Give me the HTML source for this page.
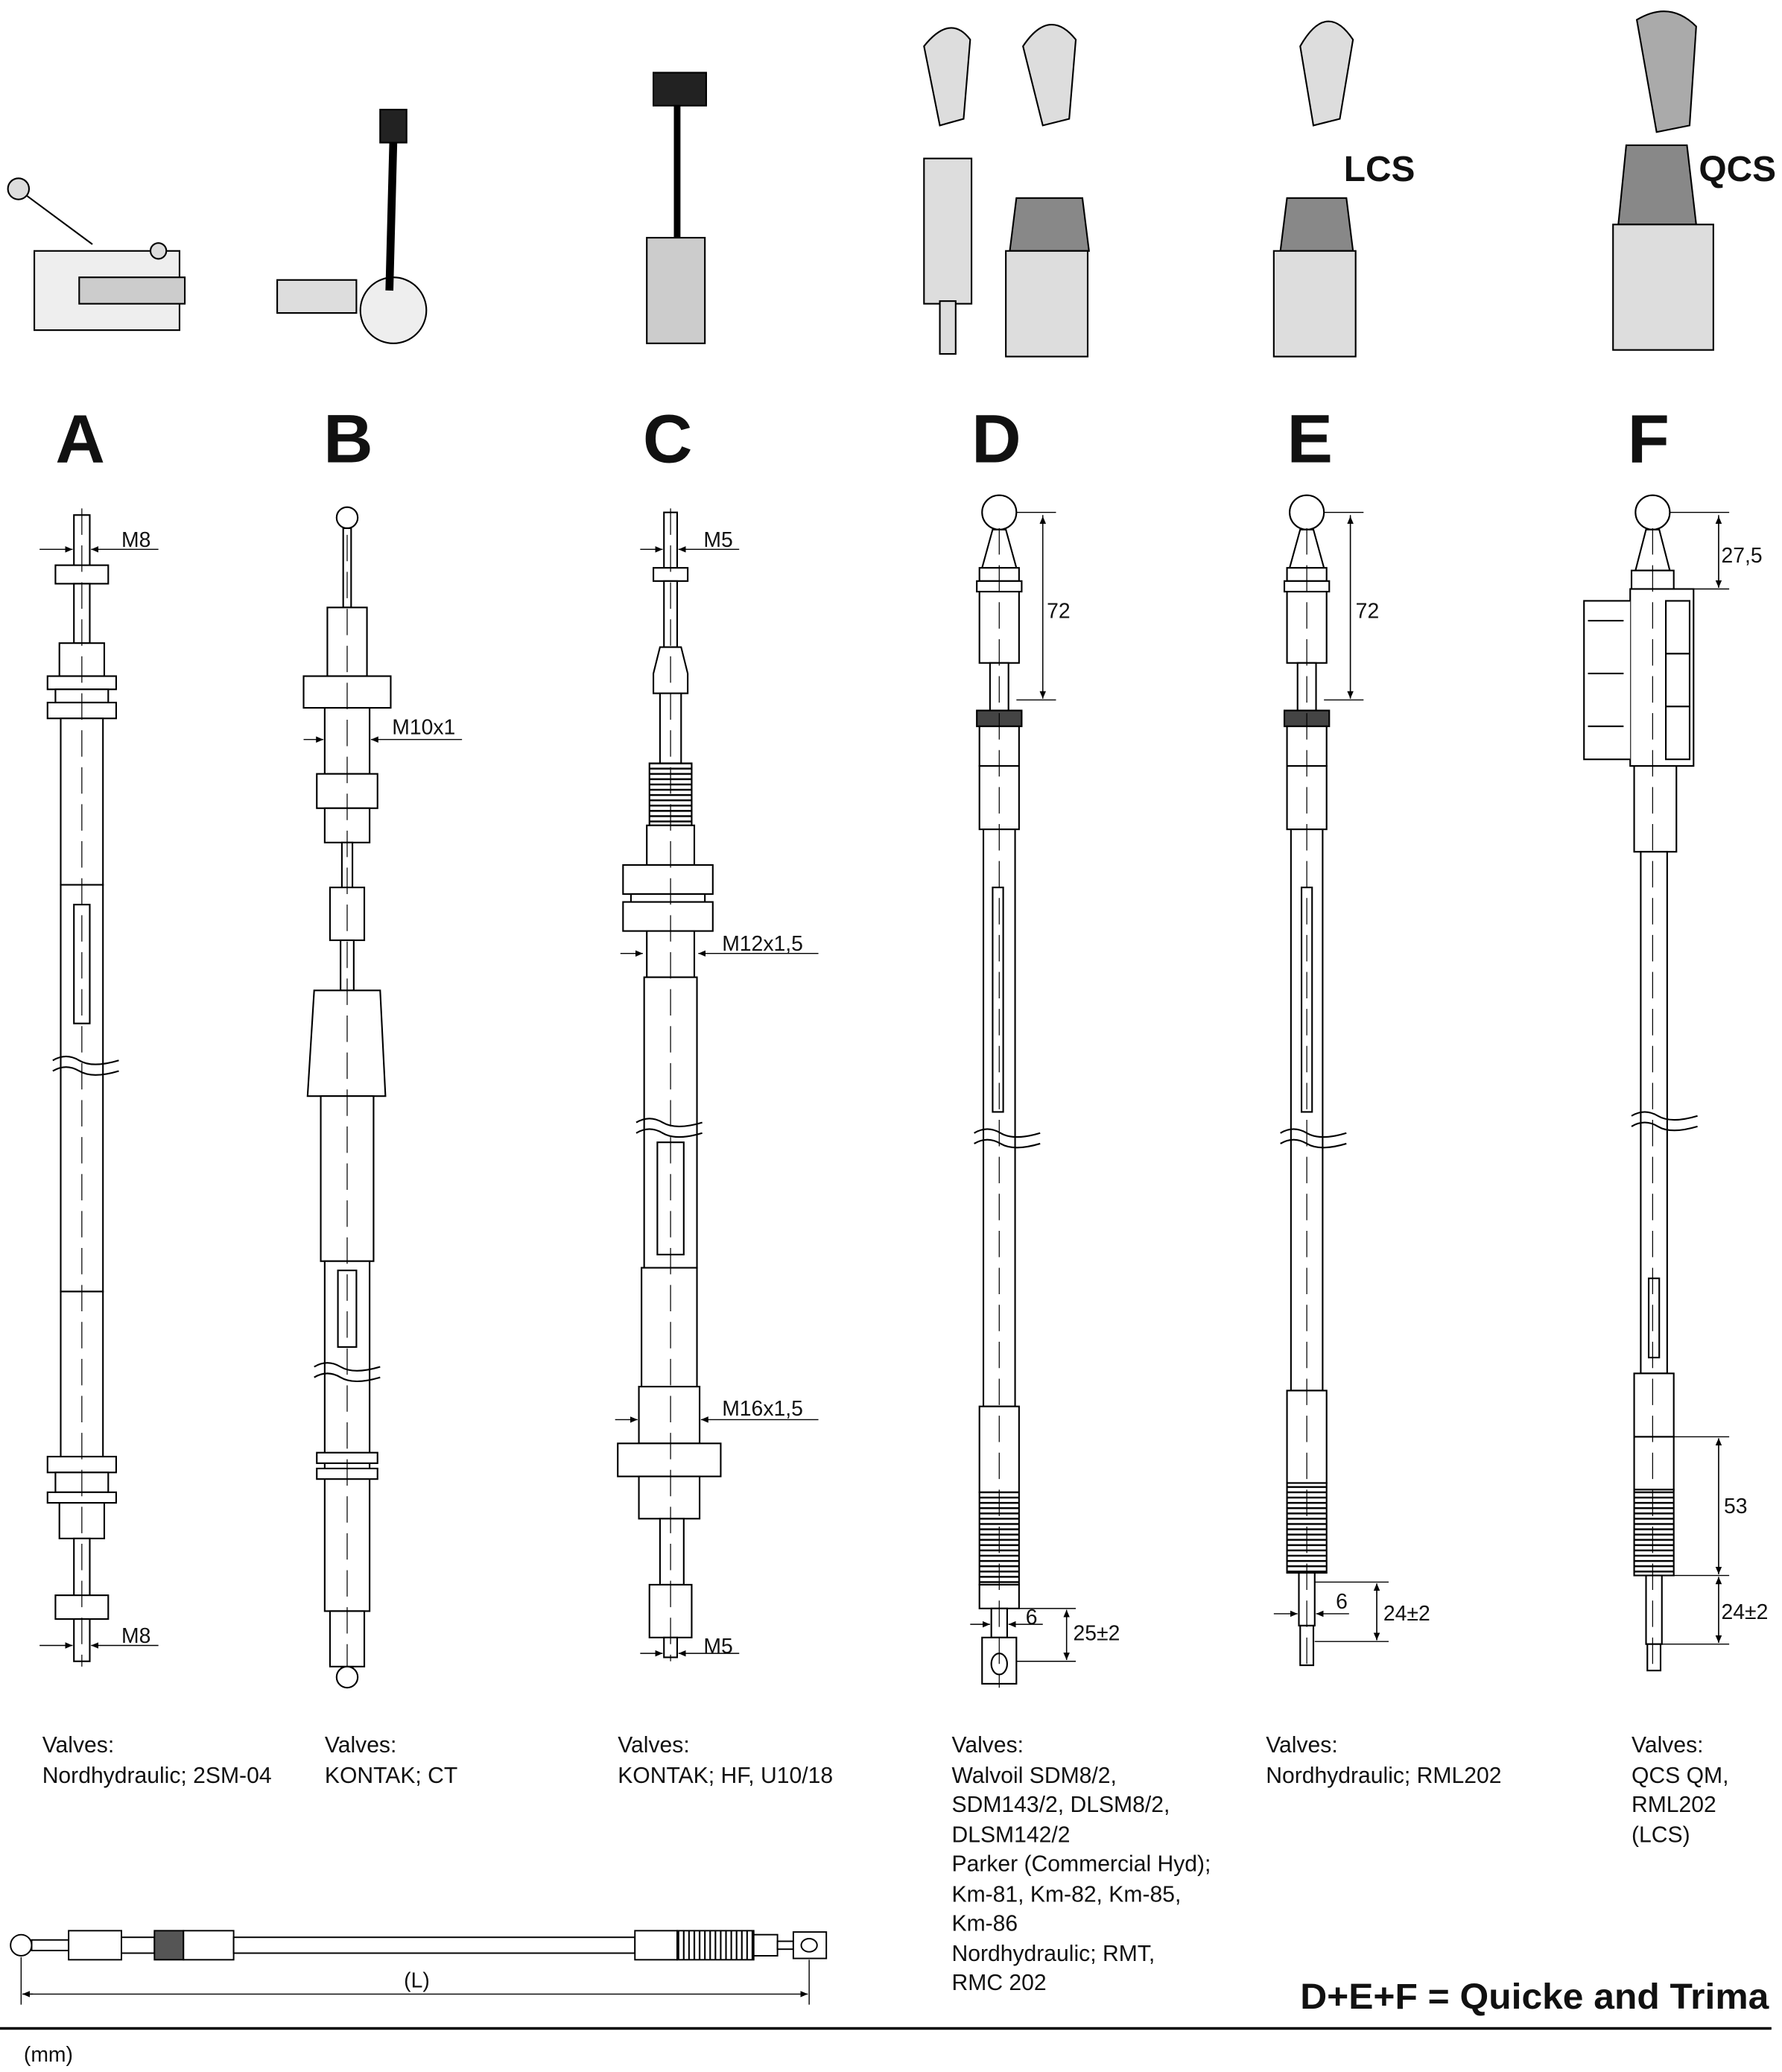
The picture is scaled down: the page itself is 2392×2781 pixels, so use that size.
<!DOCTYPE html>
<html><head><meta charset="utf-8"><style>
html,body{margin:0;padding:0;background:#fff}
svg{display:block}
text{font-family:"Liberation Sans",Arial,sans-serif;fill:#111}
.big{font-size:52px;font-weight:bold}
.lb{font-size:17px}
.d{font-size:16px}
</style></head><body>
<svg width="2392" height="2781" viewBox="0 0 1350 1569" preserveAspectRatio="none" xmlns="http://www.w3.org/2000/svg">
<defs>
<pattern id="rib" width="10" height="4" patternUnits="userSpaceOnUse"><rect width="10" height="4" fill="#fff"/><line x1="0" y1="2" x2="10" y2="2" stroke="#000" stroke-width="1.4"/></pattern>
<pattern id="ribv" width="4" height="10" patternUnits="userSpaceOnUse"><rect width="4" height="10" fill="#fff"/><line x1="2" y1="0" x2="2" y2="10" stroke="#000" stroke-width="1.2"/></pattern>
<marker id="ar" markerWidth="8" markerHeight="8" refX="7" refY="3" orient="auto"><path d="M0,0 L7,3 L0,6z" fill="#000"/></marker>
</defs>
<g stroke="#000" stroke-width="1.2" fill="#fff">
<g fill="#ddd">
<rect x="26" y="190" width="110" height="60" fill="#eee"/><circle cx="14" cy="143" r="8"/><line x1="20" y1="148" x2="70" y2="185"/><circle cx="120" cy="190" r="6"/><rect x="60" y="210" width="80" height="20" fill="#ccc"/>
<circle cx="298" cy="235" r="25" fill="#eee"/><rect x="210" y="212" width="60" height="25" fill="#ddd"/><line x1="298" y1="105" x2="295" y2="220" stroke-width="6"/><rect x="288" y="83" width="20" height="25" fill="#222"/>
<rect x="495" y="55" width="40" height="25" fill="#222"/><rect x="490" y="180" width="44" height="80" fill="#ccc"/><line x1="513" y1="80" x2="513" y2="180" stroke-width="5"/>
<path d="M700,35 Q720,10 735,30 L730,90 L712,95z"/><rect x="700" y="120" width="36" height="110"/><rect x="712" y="228" width="12" height="40"/>
<path d="M775,35 Q795,5 815,30 L810,90 L790,95z"/><path d="M770,150 L820,150 L825,190 L765,190z" fill="#888"/><rect x="762" y="190" width="62" height="80"/>
<path d="M985,35 Q1005,0 1025,30 L1015,90 L995,95z"/><path d="M975,150 L1020,150 L1025,190 L970,190z" fill="#888"/><rect x="965" y="190" width="62" height="80"/>
<path d="M1240,15 Q1265,0 1285,20 L1280,95 L1255,100z" fill="#aaa"/><path d="M1232,110 L1278,110 L1285,170 L1226,170z" fill="#888"/><rect x="1222" y="170" width="76" height="95"/>
</g>
</g>
<text x="1018" y="137" style="font-size:27px;font-weight:bold">LCS</text>
<text x="1287" y="137" style="font-size:27px;font-weight:bold">QCS</text>
<text class="big" x="42" y="350">A</text><text class="big" x="245" y="350">B</text><text class="big" x="487" y="350">C</text>
<text class="big" x="736" y="350">D</text><text class="big" x="975" y="350">E</text><text class="big" x="1233" y="350">F</text>

<g stroke="#000" stroke-width="1.2" fill="#fff">
<rect x="56" y="390" width="12" height="40"/><rect x="42" y="428" width="40" height="14"/><rect x="56" y="442" width="12" height="45"/>
<rect x="45" y="487" width="34" height="25"/><rect x="36" y="512" width="52" height="10"/><rect x="42" y="522" width="40" height="10"/><rect x="36" y="532" width="52" height="12"/>
<rect x="46" y="544" width="32" height="126"/><rect x="46" y="670" width="32" height="308"/><rect x="56" y="685" width="12" height="90"/>
<rect x="46" y="978" width="32" height="125"/><rect x="36" y="1103" width="52" height="12"/><rect x="42" y="1115" width="40" height="15"/><rect x="36" y="1130" width="52" height="8"/>
<rect x="45" y="1138" width="34" height="27"/><rect x="56" y="1165" width="12" height="45"/><rect x="42" y="1208" width="40" height="18"/><rect x="56" y="1226" width="12" height="32"/>
<circle cx="263" cy="392" r="8"/><rect x="260" y="400" width="6" height="60"/><rect x="248" y="460" width="30" height="52"/><rect x="230" y="512" width="66" height="24"/>
<rect x="246" y="536" width="34" height="50"/><rect x="240" y="586" width="46" height="26"/><rect x="246" y="612" width="34" height="26"/><rect x="259" y="638" width="8" height="34"/>
<rect x="250" y="672" width="26" height="40"/><rect x="258" y="712" width="10" height="38"/><path d="M238,750 L288,750 L292,830 L233,830z"/>
<rect x="243" y="830" width="40" height="125"/><rect x="246" y="955" width="34" height="265"/><rect x="256" y="962" width="14" height="58"/>
<rect x="240" y="1100" width="46" height="8"/><rect x="240" y="1112" width="46" height="8"/><rect x="250" y="1220" width="26" height="42"/><circle cx="263" cy="1270" r="8"/>
<rect x="503" y="388" width="10" height="42"/><rect x="495" y="430" width="26" height="10"/><rect x="503" y="440" width="10" height="50"/><path d="M500,490 L516,490 L521,510 L521,525 L495,525 L495,510z"/>
<rect x="500" y="525" width="16" height="53"/><rect x="492" y="578" width="32" height="47" fill="url(#rib)"/><rect x="490" y="625" width="36" height="30"/>
<rect x="472" y="655" width="68" height="22"/><rect x="478" y="677" width="56" height="6"/><rect x="472" y="683" width="68" height="22"/><rect x="490" y="705" width="36" height="35"/>
<rect x="488" y="740" width="40" height="220"/><rect x="498" y="865" width="20" height="85"/><rect x="486" y="960" width="42" height="90"/><rect x="484" y="1050" width="46" height="43"/>
<rect x="468" y="1093" width="78" height="25"/><rect x="484" y="1118" width="46" height="32"/><rect x="500" y="1150" width="18" height="50"/><rect x="492" y="1200" width="32" height="40"/><rect x="503" y="1240" width="10" height="15"/>
<circle cx="757" cy="388" r="13"/><path d="M752,401 L762,401 L770,430 L744,430z"/><rect x="742" y="430" width="30" height="10"/><rect x="740" y="440" width="34" height="8"/>
<rect x="742" y="448" width="30" height="54"/><rect x="750" y="502" width="14" height="36"/><rect x="740" y="538" width="34" height="12" fill="#444"/><rect x="742" y="550" width="30" height="30"/>
<rect x="742" y="580" width="30" height="48"/><rect x="745" y="628" width="24" height="437"/><rect x="752" y="672" width="8" height="170"/>
<rect x="742" y="1065" width="30" height="65"/><rect x="742" y="1130" width="30" height="70" fill="url(#rib)"/><rect x="742" y="1200" width="30" height="18"/>
<rect x="751" y="1218" width="12" height="22"/><rect x="744" y="1240" width="26" height="35"/><ellipse cx="757" cy="1260" rx="6" ry="8"/>
<circle cx="990" cy="388" r="13"/><path d="M985,401 L995,401 L1003,430 L977,430z"/><rect x="975" y="430" width="30" height="10"/><rect x="973" y="440" width="34" height="8"/>
<rect x="975" y="448" width="30" height="54"/><rect x="983" y="502" width="14" height="36"/><rect x="973" y="538" width="34" height="12" fill="#444"/><rect x="975" y="550" width="30" height="30"/>
<rect x="975" y="580" width="30" height="48"/><rect x="978" y="628" width="24" height="425"/><rect x="986" y="672" width="8" height="170"/>
<rect x="975" y="1053" width="30" height="70"/><rect x="975" y="1123" width="30" height="68" fill="url(#rib)"/><rect x="984" y="1191" width="12" height="40"/><rect x="985" y="1231" width="10" height="30"/>
<circle cx="1252" cy="388" r="13"/><path d="M1247,401 L1257,401 L1265,432 L1239,432z"/><rect x="1236" y="432" width="32" height="14"/>
<rect x="1235" y="446" width="48" height="134"/><path d="M1235,455 L1200,455 L1200,575 L1235,575" /><path d="M1203,470 L1230,470 M1203,510 L1230,510 M1203,550 L1230,550"/>
<rect x="1262" y="455" width="18" height="40"/><rect x="1262" y="495" width="18" height="40"/><rect x="1262" y="535" width="18" height="40"/>
<rect x="1238" y="580" width="32" height="65"/><rect x="1243" y="645" width="20" height="395"/><rect x="1249" y="968" width="8" height="60"/>
<rect x="1238" y="1040" width="30" height="48"/><rect x="1238" y="1088" width="30" height="40"/><rect x="1238" y="1128" width="30" height="65" fill="url(#rib)"/>
<rect x="1247" y="1193" width="12" height="52"/><rect x="1248" y="1245" width="10" height="20"/>
</g>
<g stroke="#000" stroke-width="1.2" fill="none">
<path d="M40,803 q10,-6 20,0 t30,0"/><path d="M40,811 q10,-6 20,0 t30,0"/>
<path d="M238,1035 q10,-6 20,0 t30,0"/><path d="M238,1043 q10,-6 20,0 t30,0"/>
<path d="M482,850 q10,-6 20,0 t30,0"/><path d="M482,858 q10,-6 20,0 t30,0"/>
<path d="M738,858 q10,-6 20,0 t30,0"/><path d="M738,866 q10,-6 20,0 t30,0"/>
<path d="M970,858 q10,-6 20,0 t30,0"/><path d="M970,866 q10,-6 20,0 t30,0"/>
<path d="M1236,845 q10,-6 20,0 t30,0"/><path d="M1236,853 q10,-6 20,0 t30,0"/>
</g>
<g stroke="#000" stroke-width="0.7" stroke-dasharray="20,8">
<line x1="62" y1="385" x2="62" y2="1262"/><line x1="263" y1="405" x2="263" y2="1262"/><line x1="508" y1="385" x2="508" y2="1258"/>
<line x1="757" y1="400" x2="757" y2="1278"/><line x1="990" y1="400" x2="990" y2="1262"/><line x1="1252" y1="400" x2="1252" y2="1265"/>
</g>
<g stroke="#000" stroke-width="0.8" fill="none">
<line x1="30" y1="416" x2="55" y2="416" marker-end="url(#ar)"/><line x1="120" y1="416" x2="69" y2="416" marker-end="url(#ar)"/>
<line x1="30" y1="1246" x2="55" y2="1246" marker-end="url(#ar)"/><line x1="120" y1="1246" x2="69" y2="1246" marker-end="url(#ar)"/>
<line x1="230" y1="560" x2="245" y2="560" marker-end="url(#ar)"/><line x1="350" y1="560" x2="281" y2="560" marker-end="url(#ar)"/>
<line x1="485" y1="416" x2="502" y2="416" marker-end="url(#ar)"/><line x1="560" y1="416" x2="514" y2="416" marker-end="url(#ar)"/>
<line x1="470" y1="722" x2="487" y2="722" marker-end="url(#ar)"/><line x1="620" y1="722" x2="529" y2="722" marker-end="url(#ar)"/>
<line x1="466" y1="1075" x2="483" y2="1075" marker-end="url(#ar)"/><line x1="620" y1="1075" x2="531" y2="1075" marker-end="url(#ar)"/>
<line x1="485" y1="1252" x2="502" y2="1252" marker-end="url(#ar)"/><line x1="560" y1="1252" x2="514" y2="1252" marker-end="url(#ar)"/>
<line x1="770" y1="388" x2="800" y2="388"/><line x1="770" y1="530" x2="800" y2="530"/><line x1="790" y1="390" x2="790" y2="529" marker-end="url(#ar)"/><line x1="790" y1="529" x2="790" y2="391" marker-end="url(#ar)"/>
<line x1="1003" y1="388" x2="1033" y2="388"/><line x1="1003" y1="530" x2="1033" y2="530"/><line x1="1023" y1="390" x2="1023" y2="529" marker-end="url(#ar)"/><line x1="1023" y1="529" x2="1023" y2="391" marker-end="url(#ar)"/>
<line x1="1265" y1="388" x2="1310" y2="388"/><line x1="1280" y1="446" x2="1310" y2="446"/><line x1="1302" y1="390" x2="1302" y2="445" marker-end="url(#ar)"/><line x1="1302" y1="445" x2="1302" y2="391" marker-end="url(#ar)"/>
<line x1="1268" y1="1088" x2="1310" y2="1088"/><line x1="1268" y1="1193" x2="1310" y2="1193"/><line x1="1258" y1="1245" x2="1310" y2="1245"/>
<line x1="1302" y1="1090" x2="1302" y2="1192" marker-end="url(#ar)"/><line x1="1302" y1="1192" x2="1302" y2="1089" marker-end="url(#ar)"/>
<line x1="1302" y1="1195" x2="1302" y2="1244" marker-end="url(#ar)"/><line x1="1302" y1="1244" x2="1302" y2="1194" marker-end="url(#ar)"/>
<line x1="772" y1="1218" x2="815" y2="1218"/><line x1="770" y1="1258" x2="815" y2="1258"/><line x1="808" y1="1220" x2="808" y2="1257" marker-end="url(#ar)"/><line x1="808" y1="1257" x2="808" y2="1219" marker-end="url(#ar)"/>
<line x1="735" y1="1230" x2="750" y2="1230" marker-end="url(#ar)"/><line x1="790" y1="1230" x2="764" y2="1230" marker-end="url(#ar)"/>
<line x1="996" y1="1198" x2="1052" y2="1198"/><line x1="996" y1="1243" x2="1052" y2="1243"/><line x1="1043" y1="1200" x2="1043" y2="1242" marker-end="url(#ar)"/><line x1="1043" y1="1242" x2="1043" y2="1199" marker-end="url(#ar)"/>
<line x1="965" y1="1222" x2="983" y2="1222" marker-end="url(#ar)"/><line x1="1022" y1="1222" x2="997" y2="1222" marker-end="url(#ar)"/>
</g>
<text class="d" x="92" y="414">M8</text><text class="d" x="92" y="1244">M8</text><text class="d" x="297" y="556">M10x1</text>
<text class="d" x="533" y="414">M5</text><text class="d" x="547" y="720">M12x1,5</text><text class="d" x="547" y="1072">M16x1,5</text><text class="d" x="533" y="1252">M5</text>
<text class="d" x="793" y="468">72</text><text class="d" x="1027" y="468">72</text><text class="d" x="1304" y="426">27,5</text>
<text class="d" x="1306" y="1146">53</text><text class="d" x="1304" y="1226">24±2</text><text class="d" x="813" y="1242">25±2</text><text class="d" x="777" y="1230">6</text>
<text class="d" x="1048" y="1227">24±2</text><text class="d" x="1012" y="1218">6</text>

<text class="lb" x="32" y="1327">Valves:</text><text class="lb" x="32" y="1350">Nordhydraulic; 2SM-04</text>
<text class="lb" x="246" y="1327">Valves:</text><text class="lb" x="246" y="1350">KONTAK; CT</text>
<text class="lb" x="468" y="1327">Valves:</text><text class="lb" x="468" y="1350">KONTAK; HF, U10/18</text>
<text class="lb" x="721" y="1327">Valves:</text><text class="lb" x="721" y="1350">Walvoil SDM8/2,</text><text class="lb" x="721" y="1372">SDM143/2, DLSM8/2,</text><text class="lb" x="721" y="1395">DLSM142/2</text><text class="lb" x="721" y="1417">Parker (Commercial Hyd);</text><text class="lb" x="721" y="1440">Km-81, Km-82, Km-85,</text><text class="lb" x="721" y="1462">Km-86</text><text class="lb" x="721" y="1485">Nordhydraulic; RMT,</text><text class="lb" x="721" y="1507">RMC 202</text>
<text class="lb" x="959" y="1327">Valves:</text><text class="lb" x="959" y="1350">Nordhydraulic; RML202</text>
<text class="lb" x="1236" y="1327">Valves:</text><text class="lb" x="1236" y="1350">QCS QM,</text><text class="lb" x="1236" y="1372">RML202</text><text class="lb" x="1236" y="1395">(LCS)</text>
<g stroke="#000" stroke-width="1.1" fill="#fff">
<circle cx="16" cy="1473" r="8"/><rect x="24" y="1469" width="28" height="8"/><rect x="52" y="1462" width="40" height="22"/><rect x="92" y="1467" width="25" height="12"/>
<rect x="117" y="1462" width="22" height="22" fill="#555"/><rect x="139" y="1462" width="38" height="22"/><rect x="177" y="1467" width="304" height="12"/>
<rect x="481" y="1462" width="32" height="22"/><rect x="513" y="1462" width="58" height="22" fill="url(#ribv)"/><rect x="571" y="1465" width="18" height="16"/><rect x="589" y="1470" width="12" height="6"/><rect x="601" y="1463" width="25" height="20"/><ellipse cx="613" cy="1473" rx="6" ry="5"/>
</g>
<g stroke="#000" stroke-width="0.8" fill="none">
<line x1="16" y1="1482" x2="16" y2="1518"/><line x1="613" y1="1484" x2="613" y2="1518"/>
<line x1="25" y1="1510" x2="17" y2="1510" marker-end="url(#ar)"/><line x1="17" y1="1510" x2="612" y2="1510" marker-end="url(#ar)"/>
</g>
<text class="d" x="306" y="1505">(L)</text>
<text x="985" y="1521" textLength="355" lengthAdjust="spacingAndGlyphs" style="font-size:27px;font-weight:bold">D+E+F = Quicke and Trima</text>
<line x1="0" y1="1536" x2="1342" y2="1536" stroke="#000" stroke-width="2"/>
<text class="d" x="18" y="1561">(mm)</text>
</svg>
</body></html>
